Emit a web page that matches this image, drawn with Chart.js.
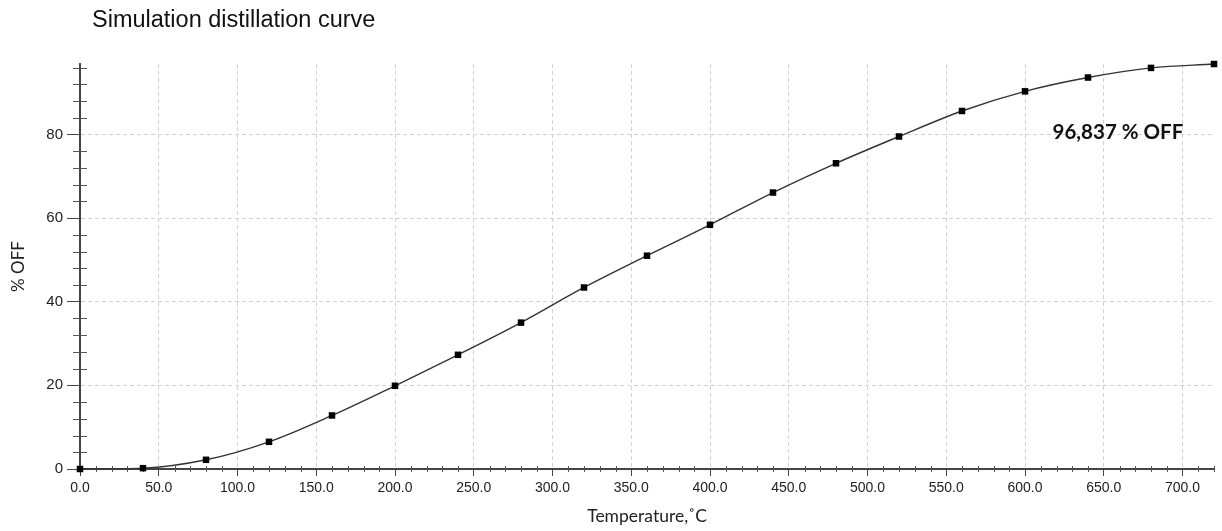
<!DOCTYPE html>
<html>
<head>
<meta charset="utf-8">
<script src="https://cdn.jsdelivr.net/npm/chart.js@4"></script>
<style>
  html, body { margin: 0; padding: 0; background: #fff; }
  #wrap { position: relative; width: 1222px; height: 531px; }
</style>
</head>
<body>
<div id="wrap"><canvas id="distChart"></canvas></div>
<script>
const temps = [0, 40, 80, 120, 160, 200, 240, 280, 320, 360, 400, 440, 480, 520, 560, 600, 640, 680, 720];
const offs = [0, 0.2, 2.2, 6.5, 12.8, 19.9, 27.3, 35.0, 43.4, 51.0, 58.4, 66.1, 73.1, 79.5, 85.6, 90.3, 93.6, 95.9, 96.837];
const xMinor = 10;
const yMinor = 4;
const chartTitle = "Simulation distillation curve";
const noteText = "96,837 % OFF";

const points = temps.map((t, i) => ({ x: t, y: offs[i] }));

// minor ticks, title and the % OFF note
const extras = {
  id: "extras",
  beforeDatasetsDraw(chart) {
    const ctx = chart.ctx;
    const xs = chart.scales.x, ys = chart.scales.y;
    const area = chart.chartArea;
    ctx.save();
    ctx.strokeStyle = "#555";
    ctx.lineWidth = 1;
    ctx.beginPath();
    for (let v = xs.min; v <= xs.max; v += xMinor) {
      if (v % 50 === 0) continue;
      const px = Math.round(xs.getPixelForValue(v)) + 0.5;
      ctx.moveTo(px, area.bottom - 3);
      ctx.lineTo(px, area.bottom + 3);
    }
    for (let v = ys.min; v <= ys.max; v += yMinor) {
      if (v % 20 === 0) continue;
      const py = Math.round(ys.getPixelForValue(v)) + 0.5;
      ctx.moveTo(area.left - 7, py);
      ctx.lineTo(area.left + 7, py);
    }
    ctx.stroke();
    ctx.restore();
  },
  afterDatasetsDraw(chart) {
    const ctx = chart.ctx;
    const xs = chart.scales.x, ys = chart.scales.y;
    ctx.save();
    ctx.fillStyle = "#111";
    ctx.font = "23.5px 'Liberation Sans', Arial, sans-serif";
    ctx.textBaseline = "middle";
    ctx.textAlign = "left";
    ctx.fillText(chartTitle, 92, 21);
    ctx.font = "bold 20.5px Lato, sans-serif";
    ctx.textAlign = "center";
    ctx.fillText(noteText, xs.getPixelForValue(659), ys.getPixelForValue(80.6));
    ctx.restore();
  }
};

new Chart(document.getElementById("distChart"), {
  type: "line",
  data: {
    datasets: [{
      label: "% OFF",
      data: points,
      borderColor: "#333",
      borderWidth: 1.4,
      cubicInterpolationMode: "monotone",
      pointStyle: "rect",
      pointRadius: 4.6,
      pointBorderWidth: 0,
      pointBackgroundColor: "#000",
      clip: false
    }]
  },
  options: {
    responsive: true,
    maintainAspectRatio: false,
    animation: false,
    layout: { padding: { top: 64, right: 8 } },
    plugins: { legend: { display: false }, tooltip: { enabled: false } },
    scales: {
      x: {
        type: "linear",
        min: 0,
        max: 720,
        afterFit(scale) { scale.height = 62; },
        ticks: {
          stepSize: 50,
          includeBounds: false,
          padding: 4,
          color: "#222",
          font: { family: "'Liberation Sans', Arial, sans-serif", size: 14 },
          callback: v => v.toFixed(1)
        },
        grid: { color: "#d2d2d2", tickColor: "#444", tickLength: 7 },
        border: { color: "#444", width: 2, dash: [4, 3] },
        title: {
          display: true,
          text: "Temperature,˚C",
          color: "#222",
          font: { family: "Lato, sans-serif", size: 17.5 },
          padding: { top: 0, bottom: 4 }
        }
      },
      y: {
        min: 0,
        max: 96.837,
        afterFit(scale) { scale.width = 80; },
        ticks: {
          stepSize: 20,
          includeBounds: false,
          padding: 4,
          color: "#222",
          font: { family: "'Liberation Sans', Arial, sans-serif", size: 15 }
        },
        grid: { color: "#d2d2d2", tickColor: "#444", tickLength: 13 },
        border: { color: "#444", width: 2, dash: [4, 3] },
        title: {
          display: true,
          text: "% OFF",
          color: "#222",
          font: { family: "Lato, sans-serif", size: 17 },
          padding: { top: 8, bottom: 0 }
        }
      }
    }
  },
  plugins: [extras]
});
</script>
</body>
</html>
